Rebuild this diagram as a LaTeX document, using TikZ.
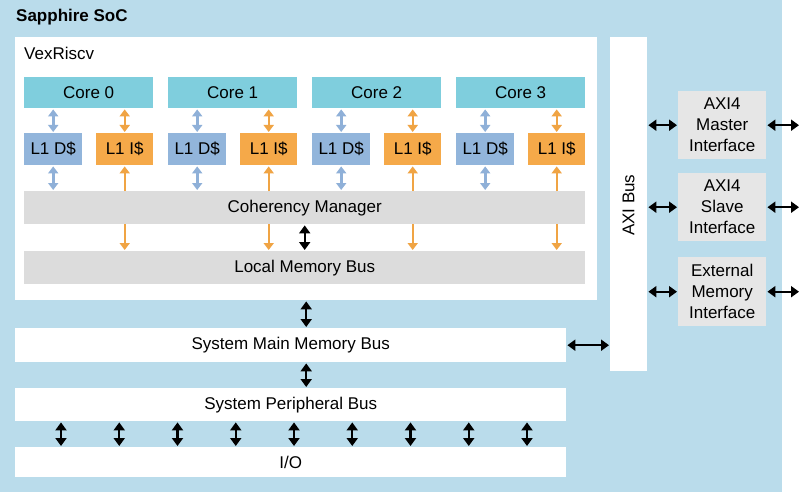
\documentclass[tikz,border=0pt]{standalone}
\usepackage{fontspec}
\setmainfont{Liberation Sans}
\usetikzlibrary{arrows.meta}
\definecolor{socblue}{RGB}{186,220,235}
\definecolor{coreteal}{RGB}{127,206,221}
\definecolor{dblue}{RGB}{146,181,219}
\definecolor{iorange}{RGB}{245,169,73}
\definecolor{busgray}{RGB}{220,220,220}
\definecolor{ifgray}{RGB}{230,230,230}
\definecolor{arrblue}{RGB}{143,176,216}
\definecolor{arrorange}{RGB}{240,164,68}
\begin{document}
\begin{tikzpicture}[x=1pt,y=-1pt,
  font=\fontsize{17}{21}\selectfont,
  box/.style={draw=none, inner sep=0pt, anchor=north west, align=center},
  sz/.style 2 args={minimum width=#1, minimum height=#2},
  karr/.style={draw=black, line width=2.4pt, {Triangle[length=8pt,width=11pt]}-{Triangle[length=8pt,width=11pt]}, shorten <=1pt, shorten >=1pt},
  barr/.style={draw=arrblue, line width=2.8pt, {Triangle[length=7pt,width=10pt]}-{Triangle[length=7pt,width=10pt]}, shorten <=1pt, shorten >=1pt},
  oarrd/.style={draw=arrorange, line width=2.2pt, {Triangle[length=7pt,width=10pt]}-{Triangle[length=7pt,width=10pt]}, shorten <=1pt, shorten >=1pt},
  oarr/.style={draw=arrorange, line width=2.2pt, -{Triangle[length=7pt,width=10pt]}, shorten >=1pt}
]
\useasboundingbox (0,0) rectangle (800,492);
% SoC background
\node[box, sz={782}{492}, fill=socblue] (soc) at (0,0) {};
\node[anchor=west, inner sep=0pt, font=\fontsize{17}{21}\selectfont\bfseries] (title) at (16,17) {Sapphire SoC};
% VexRiscv
\node[box, sz={582}{263}, fill=white] (vex) at (15,37) {};
\node[anchor=west, inner sep=0pt] (vexlbl) at (24,53) {VexRiscv};
% buses inside
\node[box, sz={561}{33}, fill=busgray] (coh) at (24,191) {Coherency Manager};
\node[box, sz={561}{33}, fill=busgray] (lmb) at (24,251) {Local Memory Bus};
% cores and caches
\foreach \i/\x in {0/24,1/168,2/312,3/456}{
  \node[box, sz={129}{31}, fill=coreteal] (c\i) at (\x,77) {Core \i};
  \node[box, sz={58}{32}, fill=dblue] (d\i) at (\x,133) {L1 D\$};
  \node[box, sz={57}{32}, fill=iorange] (i\i) at (\x+72,133) {L1 I\$};
  \draw[barr] (c\i.south -| d\i.north) -- (d\i.north);
  \draw[barr] (d\i.south) -- (d\i.south |- coh.north);
  \draw[oarrd] (c\i.south -| i\i.north) -- (i\i.north);
  \draw[oarr] (i\i.south |- coh.north) -- (i\i.south);
  \draw[oarr] (i\i.south |- coh.south) -- (i\i.south |- lmb.north);
}
\draw[karr] (coh.south) -- (lmb.north);
% system buses
\node[box, sz={551}{34}, fill=white] (smmb) at (15,328) {System Main Memory Bus};
\node[box, sz={551}{33}, fill=white] (spb) at (15,388) {System Peripheral Bus};
\node[box, sz={551}{30}, fill=white] (io) at (15,447) {I/O};
\draw[karr] (vex.south) -- (vex.south |- smmb.north);
\draw[karr] (vex.south |- smmb.south) -- (vex.south |- spb.north);
\foreach \k in {0,...,8}{
  \path (spb.south west) ++(46+58.25*\k,0) coordinate (t\k);
  \draw[karr] (t\k) -- (t\k |- io.north);
}
% AXI bus
\node[box, sz={37}{334}, fill=white] (axi) at (610,37) {};
\node[rotate=90, inner sep=0pt] (axilbl) at ([yshift=-1pt]axi.center) {AXI Bus};
\draw[karr] (smmb.east) -- (smmb.east -| axi.west);
% interfaces
\coordinate (edge) at (800,0);
\node[box, sz={88}{68}, fill=ifgray] (if1) at (678,91) {AXI4\\Master\\Interface};
\node[box, sz={88}{68}, fill=ifgray] (if2) at (678,173) {AXI4\\Slave\\Interface};
\node[box, sz={88}{69}, fill=ifgray] (if3) at (678,257) {External\\Memory\\Interface};
\foreach \n in {if1,if2,if3}{
  \draw[karr] (\n.west -| axi.east) -- (\n.west);
  \draw[karr] (\n.east) -- (\n.east -| edge);
}
\end{tikzpicture}
\end{document}
